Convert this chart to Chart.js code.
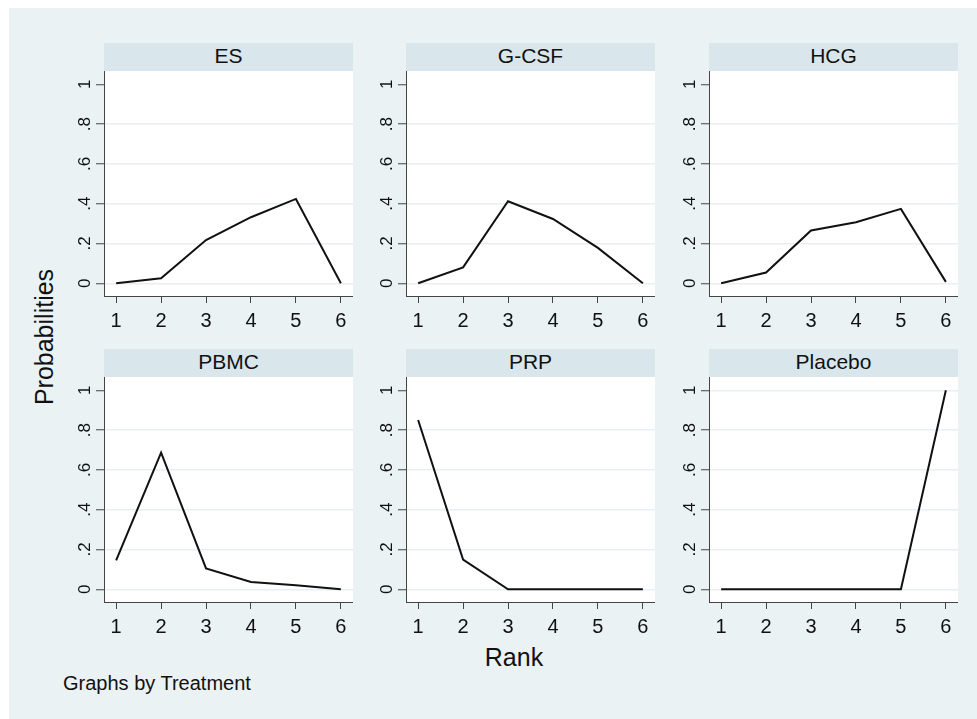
<!DOCTYPE html>
<html>
<head>
<meta charset="utf-8">
<script src="https://cdn.jsdelivr.net/npm/chart.js@4/dist/chart.umd.min.js"></script>
<style>
    body { margin: 0; background: #fff; width: 977px; height: 719px; overflow: hidden; font-family: "Liberation Sans", Arial, sans-serif; position: relative; }
    #bg { position: absolute; left: 9px; top: 8px; width: 968px; height: 711px; background: #EAF2F3; }
    .strip { position: absolute; height: 28px; line-height: 26px; background: #D9E6EB; text-align: center; font-size: 21px; color: #111; }
    canvas { position: absolute; }
    .lbl { position: absolute; white-space: nowrap; line-height: 1; color: #111; }
</style>
</head>
<body>
<div id="bg"></div>
<div class="lbl" style="left:44px; top:337px; font-size:25px; transform: translate(-50%, -50%) rotate(-90deg);">Probabilities</div>
<div class="lbl" style="left:514px; top:645px; font-size:25px; transform: translateX(-50%);">Rank</div>
<div class="lbl" style="left:63px; top:673px; font-size:20px;">Graphs by Treatment</div>

<script>
/////////////
// Data
var treatments = ['ES', 'G-CSF', 'HCG', 'PBMC', 'PRP', 'Placebo'];
var ranks = [1, 2, 3, 4, 5, 6];

var probES = [0, 0.025, 0.217, 0.332, 0.424, 0];
var probGCSF = [0, 0.08, 0.412, 0.323, 0.178, 0];
var probHCG = [0, 0.054, 0.265, 0.307, 0.374, 0.007];
var probPBMC = [0.145, 0.687, 0.105, 0.037, 0.02, 0];
var probPRP = [0.851, 0.149, 0, 0, 0, 0];
var probPlacebo = [0, 0, 0, 0, 0, 1];

var yTickValues = [0, 0.2, 0.4, 0.6, 0.8, 1];
var yTickLabels = ['0', '.2', '.4', '.6', '.8', '1'];

var allProbs = [probES, probGCSF, probHCG, probPBMC, probPRP, probPlacebo];

// Layout of the 3x2 grid (plot area corners)
var colLeft = [104, 406, 709];
var rowTop = [71, 377];
var plotW = 249, plotH = 225;
var yAxisW = 75, xAxisH = 44;

var FONT = '"Liberation Sans", Arial, sans-serif';
var AXIS = '#444';
var GRID = '#E6EFF2';

// white plot region behind the lines
var plotBg = {
    id: 'plotBg',
    beforeDraw: function (chart) {
        var a = chart.chartArea;
        chart.ctx.save();
        chart.ctx.fillStyle = '#fff';
        chart.ctx.fillRect(a.left, a.top, a.right - a.left, a.bottom - a.top);
        chart.ctx.restore();
    }
};

treatments.forEach(function (name, i) {
    var left = colLeft[i % 3];
    var top = rowTop[Math.floor(i / 3)];
    var isLast = i === treatments.length - 1;// only the last panel shows the grid line at 1

    // header strip
    var strip = document.createElement('div');
    strip.className = 'strip';
    strip.style.left = left + 'px';
    strip.style.top = (top - 28) + 'px';
    strip.style.width = plotW + 'px';
    strip.textContent = name;
    document.body.appendChild(strip);

    var canvas = document.createElement('canvas');
    canvas.width = yAxisW + plotW;
    canvas.height = plotH + xAxisH;
    canvas.style.left = (left - yAxisW) + 'px';
    canvas.style.top = top + 'px';
    document.body.appendChild(canvas);

    var points = ranks.map(function (r, k) { return { x: r, y: allProbs[i][k] }; });

    new Chart(canvas, {
        type: 'line',
        data: {
            datasets: [{
                label: name,
                data: points,
                borderColor: '#111',
                borderWidth: 2,
                pointRadius: 0,
                tension: 0,
                fill: false,
            }],
        },
        options: {
            responsive: false,
            animation: false,
            devicePixelRatio: 1,
            events: [],
            layout: { padding: 0 },
            plugins: {
                legend: { display: false },
                tooltip: { enabled: false },
            },
            scales: {
                x: {
                    type: 'linear',
                    min: 0.73,
                    max: 6.27,
                    afterBuildTicks: function (s) { s.ticks = ranks.map(function (v) { return { value: v }; }); },
                    afterFit: function (s) { s.height = xAxisH; s.paddingLeft = 0; s.paddingRight = 0; },
                    grid: { drawOnChartArea: false, tickLength: 7, tickColor: AXIS, tickWidth: 1 },
                    border: { color: AXIS, width: 1 },
                    ticks: {
                        autoSkip: false,
                        maxRotation: 0,
                        padding: 6,
                        color: '#111',
                        font: { family: FONT, size: 20 },
                    },
                },
                y: {
                    min: -0.064,
                    max: 1.067,
                    afterBuildTicks: function (s) { s.ticks = yTickValues.map(function (v) { return { value: v }; }); },
                    afterFit: function (s) { s.width = yAxisW; s.paddingTop = 0; s.paddingBottom = 0; },
                    grid: {
                        color: function (ctx) {
                            if (ctx.tick && ctx.tick.value === 1 && !isLast) return 'rgba(0,0,0,0)';
                            return GRID;
                        },
                        lineWidth: 1.5,
                        tickLength: 8,
                        tickColor: AXIS,
                        tickWidth: 1,
                    },
                    border: { color: AXIS, width: 1 },
                    ticks: {
                        minRotation: 90,
                        maxRotation: 90,
                        crossAlign: 'center',
                        padding: 4,
                        color: '#111',
                        font: { family: FONT, size: 17 },
                        callback: function (val) {
                            var k = yTickValues.indexOf(val);
                            return k >= 0 ? yTickLabels[k] : '';
                        },
                    },
                },
            },
        },
        plugins: [plotBg],
    });
});
</script>
</body>
</html>
